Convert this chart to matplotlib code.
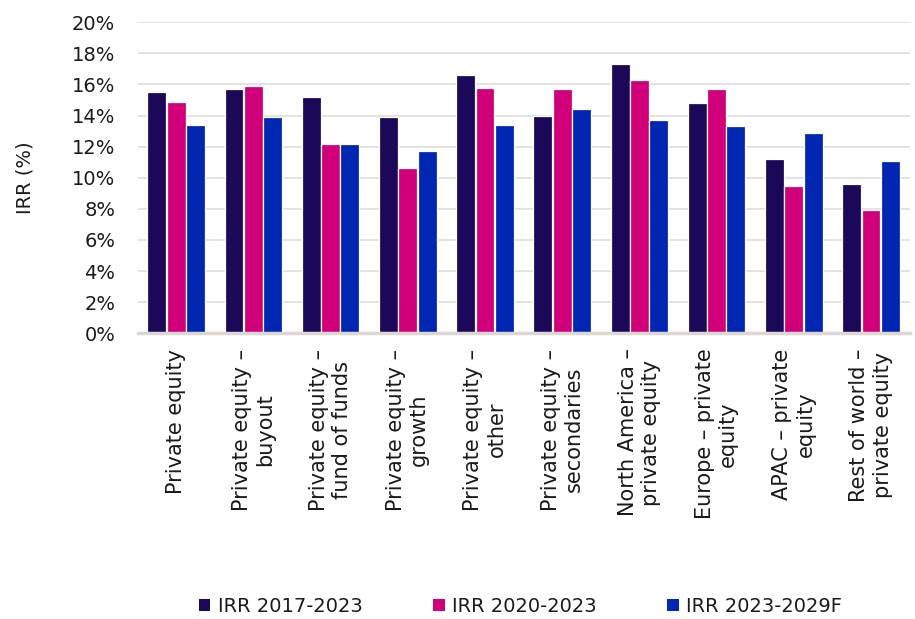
import matplotlib
matplotlib.use("Agg")
import matplotlib.pyplot as plt
from matplotlib.patches import Patch
from matplotlib.ticker import FuncFormatter
import numpy as np

categories = [
    "Private equity",
    "Private equity –\nbuyout",
    "Private equity –\nfund of funds",
    "Private equity –\ngrowth",
    "Private equity –\nother",
    "Private equity –\nsecondaries",
    "North America –\nprivate equity",
    "Europe – private\nequity",
    "APAC – private\nequity",
    "Rest of world –\nprivate equity",
]
series_names = ["IRR 2017-2023", "IRR 2020-2023", "IRR 2023-2029F"]
irr_2017_2023 = [15.5, 15.7, 15.2, 13.9, 16.6, 14.0, 17.3, 14.8, 11.2, 9.6]
irr_2020_2023 = [14.9, 15.9, 12.2, 10.6, 15.8, 15.7, 16.3, 15.7, 9.5, 7.9]
irr_2023_2029f = [13.4, 13.9, 12.2, 11.7, 13.4, 14.4, 13.7, 13.3, 12.9, 11.1]
y_ticks = list(range(0, 21, 2))

colors = ["#1b0858", "#d1007a", "#0026b2"]
text_color = "#1a1a1a"

plt.rcParams["font.family"] = ["DejaVu Sans"]

fig = plt.figure(figsize=(9.15, 6.19), dpi=100)
ax = fig.add_axes([0.1503, 0.4616, 0.8438, 0.5024])

x = np.arange(len(categories))
offsets = [-0.25, 0.0, 0.25]
for vals, off, col in zip([irr_2017_2023, irr_2020_2023, irr_2023_2029f], offsets, colors):
    ax.bar(x + off, vals, width=0.245, color=col, edgecolor="white",
           linewidth=0.9, zorder=3)

ax.set_xlim(-0.5, len(categories) - 0.5)
ax.set_ylim(0, 20)
ax.set_yticks(y_ticks)
ax.yaxis.set_major_formatter(FuncFormatter(lambda v, p: f"{v:.0f}%"))
ax.grid(axis="y", color="#e0e0e0", linewidth=1.3, zorder=0)
ax.set_axisbelow(True)

for s in ["top", "right", "left"]:
    ax.spines[s].set_visible(False)
ax.spines["bottom"].set_color("#dcd7d2")
ax.spines["bottom"].set_linewidth(2.5)
ax.spines["bottom"].set_zorder(4)

ax.set_xticks(x)
ax.set_xticklabels(categories, rotation=90, ha="center", va="top",
                   multialignment="center", fontsize=15, color=text_color)
ax.tick_params(axis="x", length=0, pad=11)
ax.tick_params(axis="y", length=0, pad=16, labelsize=14, labelcolor=text_color)

ax.set_ylabel("IRR (%)", fontsize=14, color=text_color)
ax.yaxis.set_label_coords(-0.134, 0.5)

handles = [Patch(facecolor=c, edgecolor="none") for c in colors]
fig.legend(handles, series_names, loc="center", bbox_to_anchor=(0.569, 0.02),
           ncol=3, frameon=False, fontsize=14, handlelength=0.6,
           handleheight=0.6, handletextpad=0.4, columnspacing=3.6,
           labelcolor=text_color)

fig.savefig("out.png", dpi=100)
